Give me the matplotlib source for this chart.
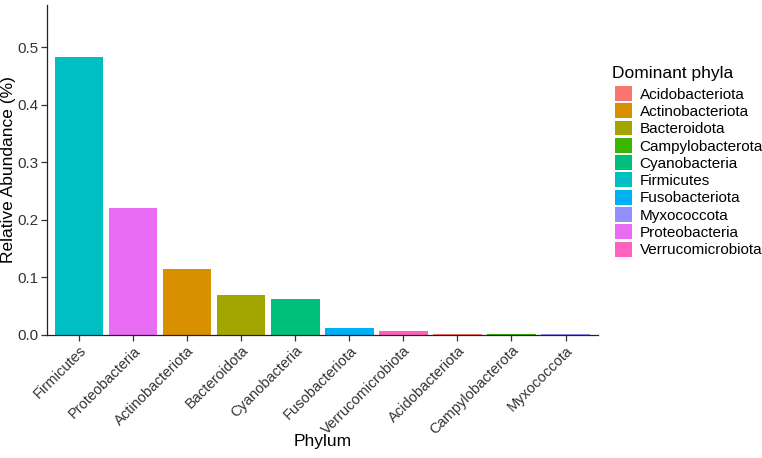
import matplotlib
matplotlib.use("Agg")
import matplotlib.pyplot as plt
from matplotlib.patches import Patch

phyla = ["Firmicutes", "Proteobacteria", "Actinobacteriota", "Bacteroidota", "Cyanobacteria",
         "Fusobacteriota", "Verrucomicrobiota", "Acidobacteriota", "Campylobacterota", "Myxococcota"]
abundance = [0.482, 0.221, 0.115, 0.070, 0.063, 0.012, 0.007, 0.002, 0.002, 0.001]

legend_names = ["Acidobacteriota", "Actinobacteriota", "Bacteroidota", "Campylobacterota", "Cyanobacteria",
                "Firmicutes", "Fusobacteriota", "Myxococcota", "Proteobacteria", "Verrucomicrobiota"]
legend_colors = ["#F8766D", "#D89000", "#A3A500", "#39B600", "#00BF7D",
                 "#00BFC4", "#00B0F6", "#9590FF", "#E76BF3", "#FF62BC"]
col = dict(zip(legend_names, legend_colors))

plt.rcParams["font.family"] = ["Liberation Sans", "DejaVu Sans"]

W, H = 762, 458
fig = plt.figure(figsize=(W / 100, H / 100), dpi=100)
# panel: left 46.5 px, right 598 px, top 5 px, bottom 335 px
ax = fig.add_axes([46.5 / W, (H - 335) / H, (598 - 46.5) / W, 330 / H])

x = list(range(1, len(phyla) + 1))
ax.bar(x, abundance, width=0.9, color=[col[p] for p in phyla], edgecolor="none")
ax.set_xlim(0.4, 10.6)
ax.set_ylim(0, 0.573)
ax.set_xticks(x)
ax.set_xticklabels(phyla, rotation=45, ha="right", rotation_mode="anchor", fontsize=10.5, color="#333333")
ax.set_yticks([0, 0.1, 0.2, 0.3, 0.4, 0.5])
ax.set_yticklabels(["0.0", "0.1", "0.2", "0.3", "0.4", "0.5"], fontsize=11, color="#333333")
ax.tick_params(length=4, width=0.9, color="#333333", pad=2)
for s in ("top", "right"):
    ax.spines[s].set_visible(False)
for s in ("left", "bottom"):
    ax.spines[s].set_linewidth(0.9)
    ax.spines[s].set_color("#222222")

ax.set_xlabel("Phylum", fontsize=12.5)
ax.xaxis.set_label_coords(0.5, -(434 - 335) / 330)
ax.set_ylabel("Relative Abundance (%)", fontsize=12.5)
ax.yaxis.set_label_coords(-(46.5 - 16) / 551.5, 0.5)

fig.text(612 / W, 1 - 66 / H, "Dominant phyla", fontsize=12.5, ha="left", va="top")
handles = [Patch(facecolor=c, edgecolor="none") for c in legend_colors]
fig.legend(handles, legend_names, loc="upper left",
           bbox_to_anchor=(615 / W, 1 - 86 / H), frameon=False, fontsize=11,
           borderpad=0, borderaxespad=0, handlelength=1.12, handleheight=1.12,
           handletextpad=0.5, labelspacing=0.11)

fig.savefig("out.png", dpi=100)
